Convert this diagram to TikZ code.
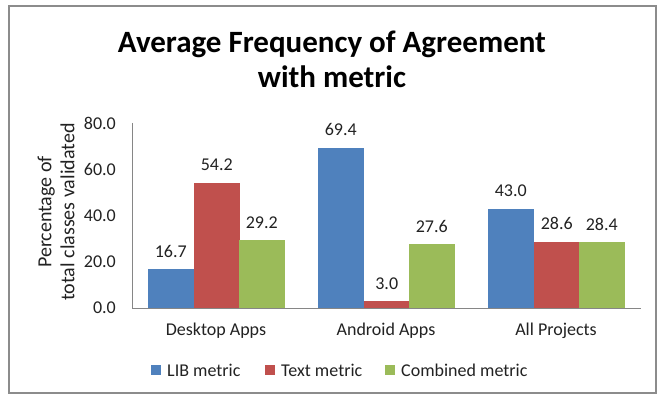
\documentclass[tikz,border=0pt]{standalone}
\usepackage{fontspec}
\setmainfont{Carlito}
\definecolor{libc}{HTML}{4F81BD}
\definecolor{txtc}{HTML}{C0504D}
\definecolor{comc}{HTML}{9BBB59}
\definecolor{axisc}{HTML}{868686}
\definecolor{framec}{HTML}{8C8C8C}
\definecolor{labc}{HTML}{222222}
\begin{document}
\begin{tikzpicture}[x=1pt,y=-1pt,
  lbl/.style={font=\fontsize{18}{21}\selectfont, text=labc, inner sep=0pt},
  val/.style={lbl, anchor=base},
  tick/.style={lbl, anchor=east},
  legsq/.style={minimum size=10pt, inner sep=0pt}
]
\useasboundingbox (0,0) rectangle (662,396);
\fill[white] (0,0) rectangle (662,396);
\draw[framec, line width=1.2pt] (9,6) rectangle (656,393);
% title
\node[font=\fontsize{31}{35}\selectfont\bfseries, anchor=base, inner sep=0pt] (title1) at (332,53) {Average Frequency of Agreement};
\node[font=\fontsize{31}{35}\selectfont\bfseries, anchor=base, inner sep=0pt] (title2) at (332,88) {with metric};
% bars: zero at y=308, 2.3125 px per unit
\def\yz{308}
\def\sc{2.3125}
\foreach \xl/\v/\c/\n in {148/16.7/libc/a1,194/54.2/txtc/a2,239/29.2/comc/a3,
                          318/69.4/libc/b1,364/3.0/txtc/b2,409/27.6/comc/b3,
                          488/43.0/libc/c1,534/28.6/txtc/c2,579/28.4/comc/c3}{
  \fill[\c] (\xl,\yz) rectangle ({\xl+45.5},{\yz-\v*\sc});
  \node[val] (v\n) at ({\xl+22.75},{\yz-\v*\sc-12}) {\v};
}
% axes
\coordinate (o) at (132,308);
\coordinate (ytop) at (132,123);
\coordinate (xend) at (641,308);
\draw[axisc, line width=0.8pt] (ytop) -- (o) -- (xend);
% ticks
\foreach \t/\n in {0/t0,20/t1,40/t2,60/t3,80/t4}{
  \node[tick] (\n) at (116,{\yz-\t*\sc}) {\t.0};
}
% y title
\node[lbl, font=\fontsize{20}{23}\selectfont, rotate=90, align=center] (ytitle) at (56,212) {Percentage of\\total classes validated};
% categories
\node[lbl] (cat1) at (216,331) {Desktop Apps};
\node[lbl] (cat2) at (386,331) {Android Apps};
\node[lbl] (cat3) at (556,331) {All Projects};
% legend
\node[legsq, fill=libc] (l1) at (156,370) {};
\node[lbl, anchor=west] (lt1) at (167,370) {LIB metric};
\node[legsq, fill=txtc] (l2) at (270,370) {};
\node[lbl, anchor=west] (lt2) at (281,370) {Text metric};
\node[legsq, fill=comc] (l3) at (390,370) {};
\node[lbl, anchor=west] (lt3) at (401,370) {Combined metric};
\end{tikzpicture}
\end{document}
